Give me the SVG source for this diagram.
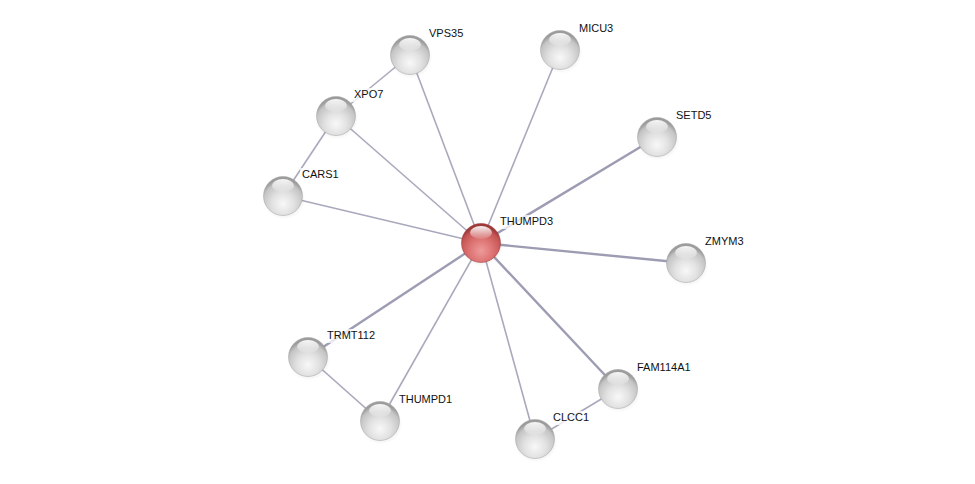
<svg xmlns="http://www.w3.org/2000/svg" width="975" height="484" viewBox="0 0 975 484">
<defs>
<style>
.e{stroke:#a9a9bd;stroke-width:1.6;fill:none}
.e2{stroke:#9c9cb3;stroke-width:2.4;fill:none}
.lbl{font-family:"Liberation Sans",Arial,sans-serif;font-size:11px;fill:#111}
.bg{fill:#ffffff;fill-opacity:0.75}
</style>
<radialGradient id="gw" cx="0.5" cy="0.7" r="0.62">
<stop offset="0" stop-color="#f8f8f8"/>
<stop offset="0.45" stop-color="#e2e2e2"/>
<stop offset="0.85" stop-color="#c4c4c4"/>
<stop offset="1" stop-color="#9c9c9c"/>
</radialGradient>
<radialGradient id="gr" cx="0.5" cy="0.7" r="0.62">
<stop offset="0" stop-color="#ee9a9a"/>
<stop offset="0.45" stop-color="#df7676"/>
<stop offset="0.85" stop-color="#c65555"/>
<stop offset="1" stop-color="#a03a3a"/>
</radialGradient>
<linearGradient id="hl" x1="0" y1="0" x2="0" y2="1">
<stop offset="0" stop-color="#ffffff" stop-opacity="0.95"/>
<stop offset="1" stop-color="#ffffff" stop-opacity="0.1"/>
</linearGradient>
<radialGradient id="sh" cx="0.5" cy="0.5" r="0.5">
<stop offset="0" stop-color="#000" stop-opacity="0.22"/>
<stop offset="1" stop-color="#000" stop-opacity="0"/>
</radialGradient>
<g id="wn">
<ellipse cx="1" cy="3" rx="21.5" ry="20.5" fill="url(#sh)"/>
<circle r="19.5" fill="url(#gw)" stroke="#a0a0a0" stroke-width="0.5"/>
<ellipse cx="0" cy="-10.5" rx="11" ry="6.5" fill="url(#hl)"/>
</g>
<g id="rn">
<ellipse cx="1" cy="3" rx="21.5" ry="20.5" fill="url(#sh)"/>
<circle r="19.5" fill="url(#gr)" stroke="#963030" stroke-width="0.5"/>
<ellipse cx="0" cy="-10.5" rx="11" ry="6.5" fill="url(#hl)"/>
</g>
</defs>
<rect width="975" height="484" fill="#ffffff"/>
<g id="connectors">
<line class="e" x1="481" y1="243" x2="410" y2="55"/>
<line class="e" x1="481" y1="243" x2="560" y2="50"/>
<line class="e" x1="481" y1="243" x2="336" y2="116"/>
<line class="e2" x1="481" y1="243" x2="657" y2="137"/>
<line class="e" x1="481" y1="243" x2="283" y2="196"/>
<line class="e2" x1="481" y1="243" x2="686" y2="263"/>
<line class="e2" x1="481" y1="243" x2="308" y2="357"/>
<line class="e" x1="481" y1="243" x2="380" y2="421"/>
<line class="e2" x1="481" y1="243" x2="618" y2="389"/>
<line class="e" x1="481" y1="243" x2="535" y2="439"/>
<line class="e" x1="336" y1="116" x2="410" y2="55"/>
<line class="e" x1="336" y1="116" x2="283" y2="196"/>
<line class="e" x1="308" y1="357" x2="380" y2="421"/>
<line class="e" x1="618" y1="389" x2="535" y2="439"/>
</g>
<g id="VPS35"><use href="#wn" x="410" y="55"/><rect class="bg" x="427" y="27" width="42" height="14"/><text class="lbl" x="429" y="37">VPS35</text></g>
<g id="MICU3"><use href="#wn" x="560" y="50"/><rect class="bg" x="577" y="22" width="42" height="14"/><text class="lbl" x="579" y="32">MICU3</text></g>
<g id="XPO7"><use href="#wn" x="336" y="116"/><rect class="bg" x="352" y="88" width="36" height="14"/><text class="lbl" x="354" y="98">XPO7</text></g>
<g id="SETD5"><use href="#wn" x="657" y="137"/><rect class="bg" x="674" y="109" width="42" height="14"/><text class="lbl" x="676" y="119">SETD5</text></g>
<g id="CARS1"><use href="#wn" x="283" y="196"/><rect class="bg" x="300" y="168" width="42" height="14"/><text class="lbl" x="302" y="178">CARS1</text></g>
<g id="ZMYM3"><use href="#wn" x="686" y="263"/><rect class="bg" x="703" y="235" width="46" height="14"/><text class="lbl" x="705" y="245">ZMYM3</text></g>
<g id="TRMT112"><use href="#wn" x="308" y="357"/><rect class="bg" x="325" y="329" width="56" height="14"/><text class="lbl" x="327" y="339">TRMT112</text></g>
<g id="THUMPD1"><use href="#wn" x="380" y="421"/><rect class="bg" x="397" y="393" width="62" height="14"/><text class="lbl" x="399" y="403">THUMPD1</text></g>
<g id="FAM114A1"><use href="#wn" x="618" y="389"/><rect class="bg" x="635" y="361" width="64" height="14"/><text class="lbl" x="637" y="371">FAM114A1</text></g>
<g id="CLCC1"><use href="#wn" x="535" y="439"/><rect class="bg" x="551" y="411" width="42" height="14"/><text class="lbl" x="553" y="421">CLCC1</text></g>
<g id="THUMPD3"><use href="#rn" x="481" y="243"/><rect class="bg" x="498" y="215" width="62" height="14"/><text class="lbl" x="500" y="225">THUMPD3</text></g>
</svg>
